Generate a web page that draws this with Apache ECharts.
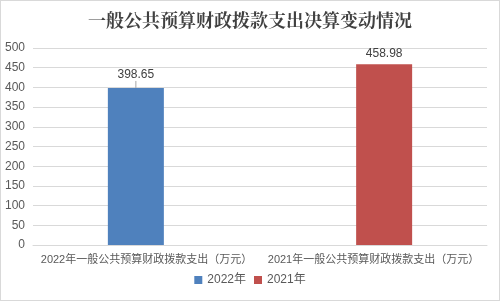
<!DOCTYPE html>
<html><head><meta charset="utf-8">
<script src="https://cdn.jsdelivr.net/npm/echarts@6/dist/echarts.min.js"></script>
<style>html,body{margin:0;padding:0;background:#fff}#c{width:500px;height:301px;box-sizing:border-box;border:1px solid #d9d9d9}</style>
</head><body><div id="c"></div>
<script>
var title = '一般公共预算财政拨款支出决算变动情况';
var categories = ['2022年一般公共预算财政拨款支出（万元）', '2021年一般公共预算财政拨款支出（万元）'];
var seriesNames = ['2022年', '2021年'];
var values2022 = [398.65, null];
var values2021 = [null, 458.98];
var yMin = 0, yMax = 500, yStep = 50;

var chart = echarts.init(document.getElementById('c'));
chart.setOption({
  animation: false,
  title: {text: title, left: 'center', top: 5,
    textStyle: {fontFamily: 'Noto Serif CJK SC, Noto Sans CJK SC', fontWeight: 'bold', fontSize: 18, color: '#404040'}},
  grid: {left: 32, right: 12, top: 47, bottom: 55},
  legend: {bottom: 9, left: 'center', itemWidth: 8, itemHeight: 8, itemGap: 8, icon: 'rect',
    textStyle: {fontSize: 12, color: '#595959', fontFamily: 'Liberation Sans, Noto Sans CJK SC'},
    data: seriesNames},
  xAxis: {type: 'category', data: categories,
    axisLine: {lineStyle: {color: '#d9d9d9'}}, axisTick: {show: false},
    axisLabel: {interval: 0, fontSize: 11, color: '#595959', margin: 9, fontFamily: 'Liberation Sans, Noto Sans CJK SC'}},
  yAxis: {type: 'value', min: yMin, max: yMax, interval: yStep,
    axisLine: {show: false}, axisTick: {show: false},
    splitLine: {lineStyle: {color: '#d9d9d9'}},
    axisLabel: {fontSize: 12, color: '#595959', margin: 8, fontFamily: 'Liberation Sans, Noto Sans CJK SC'}},
  series: [
    {name: seriesNames[0], type: 'bar', data: values2022, barWidth: 56, barGap: '-62%',
     itemStyle: {color: '#4f81bd'},
     label: {show: true, position: 'top', distance: 4, fontSize: 12, color: '#404040', fontFamily: 'Liberation Sans'},
     labelLayout: {dy: -3}, labelLine: {show: true, lineStyle: {color: '#a6a6a6', width: 1}}},
    {name: seriesNames[1], type: 'bar', data: values2021, barWidth: 56, barGap: '-62%',
     itemStyle: {color: '#c0504d'},
     label: {show: true, position: 'top', distance: 4, fontSize: 12, color: '#404040', fontFamily: 'Liberation Sans'}}
  ]
});
</script></body></html>
